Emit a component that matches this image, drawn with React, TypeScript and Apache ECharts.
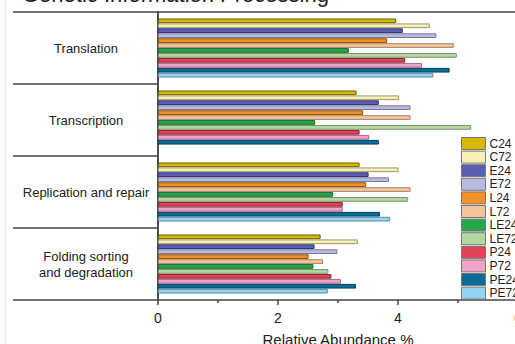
import React, { useEffect, useRef } from "react";
import * as echarts from "echarts";

const categories = ["Translation", "Transcription", "Replication and repair", "Folding sorting\nand degradation"];
const seriesNames = ["C24", "C72", "E24", "E72", "L24", "L72", "LE24", "LE72", "P24", "P72", "PE24", "PE72"];
const C24 = [3.97, 3.31, 3.36, 2.71];
const C72 = [4.53, 4.02, 4.01, 3.33];
const E24 = [4.08, 3.68, 3.51, 2.61];
const E72 = [4.64, 4.21, 3.85, 2.99];
const L24 = [3.82, 3.42, 3.47, 2.51];
const L72 = [4.93, 4.21, 4.21, 2.75];
const LE24 = [3.18, 2.62, 2.92, 2.59];
const LE72 = [4.98, 5.22, 4.17, 2.84];
const P24 = [4.12, 3.36, 3.08, 2.89];
const P72 = [4.4, 3.52, 3.08, 3.05];
const PE24 = [4.86, 3.68, 3.7, 3.3];
const PE72 = [4.59, null, 3.87, 2.83];
const seriesValues = [C24, C72, E24, E72, L24, L72, LE24, LE72, P24, P72, PE24, PE72];
const fills = ["#d6b900", "#f7f0b4", "#5a5fb4", "#b9badf", "#f39027", "#f3c596", "#27a74a", "#b3d9a0", "#de4356", "#f2a3c6", "#0d6c97", "#93d4f3"];
const borders = ["#6b5e00", "#9a9670", "#2e3170", "#7b7c9c", "#8d5316", "#a5836a", "#176a2c", "#7b9070", "#8a2333", "#a06a85", "#053f5b", "#5d8ba3"];
const xTicks = { min: 0, max: 6, interval: 2 };
const title = "Genetic Information Processing";
const xName = "Relative Abundance %";

const FONT = "'Liberation Sans', Arial, sans-serif";
const AX = "#444";
const TXT = "#222";

export default function App() {
  const ref = useRef<HTMLDivElement>(null);
  useEffect(() => {
    if (!ref.current) return;
    const chart = echarts.init(ref.current, null, { renderer: "svg" });
    chart.setOption({
      animation: false,
      textStyle: { fontFamily: FONT },
      graphic: [
        {
          type: "text",
          left: 22,
          top: -17,
          style: { text: title, font: `22px ${FONT}`, fill: TXT },
        },
        {
          type: "line",
          shape: { x1: 5.5, y1: 0, x2: 5.5, y2: 344 },
          style: { stroke: "#e8e8e8", lineWidth: 1 },
        },
      ],
      legend: {
        orient: "vertical",
        left: 461,
        top: 137,
        padding: 0,
        itemWidth: 24,
        itemHeight: 12,
        itemGap: 0.6,
        icon: "rect",
        itemStyle: { borderWidth: 1, borderColor: "#777" },
        textStyle: { fontSize: 12, color: TXT, lineHeight: 12, fontFamily: FONT, padding: [0, 0, 0, -1] },
        data: seriesNames,
      },
      grid: { left: 158, top: 12, width: 360, height: 288, containLabel: false, outerBoundsMode: "none" },
      xAxis: [
        {
          type: "value",
          position: "bottom",
          min: xTicks.min,
          max: xTicks.max,
          interval: xTicks.interval,
          axisLine: { show: true, lineStyle: { color: AX, width: 1.5 } },
          axisTick: { show: true, length: 5, lineStyle: { color: AX, width: 1.5 } },
          minorTick: { show: true, splitNumber: 2, length: 3, lineStyle: { color: AX, width: 1.5 } },
          splitLine: { show: false },
          axisLabel: { fontSize: 14, color: TXT, margin: 11, fontFamily: FONT },
          name: xName,
          nameLocation: "middle",
          nameGap: 32,
          nameTextStyle: { fontSize: 15, color: TXT, fontFamily: FONT },
        },
        {
          type: "value",
          position: "top",
          min: xTicks.min,
          max: xTicks.max,
          axisLine: { show: true, lineStyle: { color: AX, width: 1.5 } },
          axisTick: { show: false },
          axisLabel: { show: false },
          splitLine: { show: false },
        },
      ],
      yAxis: [
        {
          type: "category",
          data: categories,
          inverse: true,
          position: "left",
          axisLine: { show: true, lineStyle: { color: AX, width: 1.5 } },
          axisTick: { show: true, length: 145, lineStyle: { color: AX, width: 1.5 } },
          axisLabel: { margin: 72, align: "center", fontSize: 13, color: TXT, lineHeight: 16, fontFamily: FONT },
        },
        {
          type: "category",
          data: categories,
          inverse: true,
          position: "left",
          offset: 145,
          axisLine: { show: true, lineStyle: { color: AX, width: 1.5 } },
          axisTick: { show: false },
          axisLabel: { show: false },
        },
      ],
      series: seriesNames.map((name, i) => ({
        name,
        type: "bar",
        xAxisIndex: 0,
        yAxisIndex: 0,
        data: seriesValues[i],
        barGap: "5%",
        barCategoryGap: "18%",
        itemStyle: { color: fills[i], borderColor: borders[i], borderWidth: 1 },
      })),
    });
    return () => chart.dispose();
  }, []);
  return (
    <div style={{ position: "fixed", left: 0, top: 0, width: 515, height: 344, overflow: "hidden", background: "#fff" }}>
      <div ref={ref} style={{ width: 600, height: 344 }} />
    </div>
  );
}
